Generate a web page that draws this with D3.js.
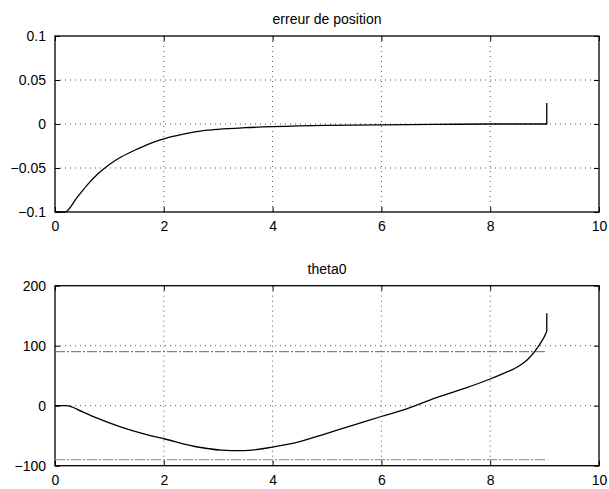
<!DOCTYPE html>
<html>
<head>
<meta charset="utf-8">
<script src="https://cdn.jsdelivr.net/npm/d3@7"></script>
<style>
  body { margin: 0; background: #fff; }
  svg { font-family: "Liberation Sans", Arial, sans-serif; }
  .grid line { stroke: #555; stroke-dasharray: 1,4; stroke-width: 1; }
  .tick text { font-size: 14px; fill: #000; }
</style>
</head>
<body>
<script>
// values
var errT   = [0, 0.18, 0.4, 0.61, 0.8, 1.0, 1.23, 1.53, 1.84, 2.02, 2.36, 2.7, 3.0, 3.5, 4.0, 5.0, 6.0, 7.0, 8.0, 9.04, 9.04];
var errV   = [-0.1, -0.1, -0.084, -0.068, -0.056, -0.046, -0.037, -0.028, -0.020, -0.0165, -0.0115, -0.0078, -0.006, -0.0042, -0.003, -0.0015, -0.001, -0.0005, 0, 0, 0.024];

var thT    = [0, 0.21, 0.5, 0.74, 1.23, 1.6, 2.02, 2.57, 3.06, 3.43, 4.0, 4.5, 5.0, 5.5, 6.0, 6.5, 7.0, 7.5, 8.0, 8.3, 8.45, 8.61, 8.72, 8.82, 8.95, 9.02, 9.04, 9.04];
var thV    = [0, 0, -10, -19.5, -36, -46, -55.5, -68, -74, -75, -69, -60, -46, -32, -18, -4, 13, 28, 44.5, 56, 62, 71, 80, 90.5, 108, 120, 125, 154];
var limT   = [0, 9.05];
var limHi  = [90, 90];
var limLo  = [-90, -90];

var xTicks   = [0, 2, 4, 6, 8, 10];
var errTicks = [-0.1, -0.05, 0, 0.05, 0.1];
var thTicks  = [-100, 0, 100, 200];

var W = 609, H = 489;
var left = 55, right = 599;

var svg = d3.select("body").append("svg")
    .attr("width", W)
    .attr("height", H);

function panel(top, bottom, yDomain, yTicks, title, fmt, lines) {
  var x = d3.scaleLinear().domain([0, 10]).range([left, right]);
  var y = d3.scaleLinear().domain(yDomain).range([bottom, top]);
  var g = svg.append("g");

  // grid
  var grid = g.append("g").attr("class", "grid");
  grid.selectAll(".gx").data(xTicks.slice(1, -1)).enter().append("line")
      .attr("x1", x).attr("x2", x).attr("y1", top).attr("y2", bottom);
  grid.selectAll(".gy").data(yTicks.slice(1, -1)).enter().append("line")
      .attr("y1", y).attr("y2", y).attr("x1", left).attr("x2", right);

  // axes with inward ticks
  g.append("g").attr("transform", "translate(0," + bottom + ")")
      .call(d3.axisBottom(x).tickValues(xTicks).tickSizeInner(-5).tickSizeOuter(0).tickPadding(9)
        .tickFormat(d3.format("d")))
      .call(function(s) { s.select(".domain").remove(); });
  g.append("g").attr("transform", "translate(0," + top + ")")
      .call(d3.axisTop(x).tickValues(xTicks).tickSizeInner(-5).tickSizeOuter(0).tickFormat(""))
      .call(function(s) { s.select(".domain").remove(); });
  g.append("g").attr("transform", "translate(" + left + ",0)")
      .call(d3.axisLeft(y).tickValues(yTicks).tickSizeInner(-5).tickSizeOuter(0).tickPadding(9)
        .tickFormat(fmt))
      .call(function(s) { s.select(".domain").remove(); });
  g.append("g").attr("transform", "translate(" + right + ",0)")
      .call(d3.axisRight(y).tickValues(yTicks).tickSizeInner(-5).tickSizeOuter(0).tickFormat(""))
      .call(function(s) { s.select(".domain").remove(); });

  g.append("rect")
      .attr("x", left).attr("y", top)
      .attr("width", right - left).attr("height", bottom - top)
      .attr("fill", "none").attr("stroke", "#000").attr("stroke-width", 1.3);

  var line = d3.line().x(function(d) { return x(d[0]); }).y(function(d) { return y(d[1]); });
  lines.forEach(function(l) {
    g.append("path")
        .datum(d3.zip(l.t, l.v))
        .attr("fill", "none")
        .attr("stroke", l.color)
        .attr("stroke-width", l.w)
        .attr("stroke-dasharray", l.dash)
        .attr("d", line.curve(l.straight ? d3.curveLinear : d3.curveMonotoneX));
  });

  g.append("text")
      .attr("x", (left + right) / 2)
      .attr("y", top - 12)
      .attr("text-anchor", "middle")
      .attr("font-size", 14)
      .text(title);
}

var minus = function(f) { return function(d) { return f(d).replace("-", "\u2212"); }; };

panel(36, 212, [-0.1, 0.1], errTicks, "erreur de position",
  minus(function(d) { return d === 0 ? "0" : d3.format("")(d); }),
  [{ t: errT, v: errV, color: "#000", w: 1.3, dash: null, straight: false }]);

panel(285.7, 465.7, [-100, 200], thTicks, "theta0",
  minus(d3.format("d")),
  [{ t: limT, v: limHi, color: "#666", w: 1, dash: "10,2,2,2", straight: true },
   { t: limT, v: limLo, color: "#888", w: 1, dash: "10,2,2,2", straight: true },
   { t: thT, v: thV, color: "#000", w: 1.3, dash: null, straight: false }]);
</script>
</body>
</html>
